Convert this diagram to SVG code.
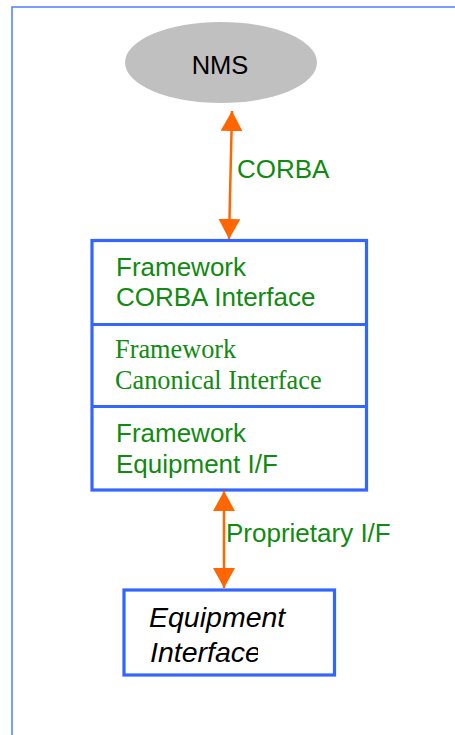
<svg xmlns="http://www.w3.org/2000/svg" width="455" height="735" viewBox="0 0 455 735">
<style>
.frame{fill:none;stroke:#4d7cff;stroke-width:1.5}
.box{fill:#fff;stroke:#3366ff;stroke-width:3.2}
.sans{font-family:"Liberation Sans",Arial,sans-serif}
.serif{font-family:"Liberation Serif","Times New Roman",serif}
.green{fill:#118a11}
.conn{stroke:#ff6600;stroke-width:2.5;fill:none}
.eq{font-size:28.5px;font-style:italic;fill:#000}
</style>
<defs>
<marker id="ah" viewBox="0 0 20 22" refX="20" refY="11" markerWidth="20" markerHeight="22" markerUnits="userSpaceOnUse" orient="auto-start-reverse">
<path d="M0,0 L20,11 L0,22 Z" fill="#ff6600"/>
</marker>
<clipPath id="eqclip"><rect x="124" y="635" width="134" height="40"/></clipPath>
</defs>
<rect class="frame" x="12" y="7" width="460" height="740"/>
<g id="nms">
<ellipse cx="221" cy="62.5" rx="96" ry="40.5" fill="#c0c0c0"/>
<text class="sans" x="220" y="74" font-size="25.5" text-anchor="middle" fill="#000">NMS</text>
</g>
<g id="framework">
<rect class="box" x="92" y="240.5" width="274.5" height="249.5"/>
<line class="box" x1="92" y1="324.5" x2="366.5" y2="324.5"/>
<line class="box" x1="92" y1="406.5" x2="366.5" y2="406.5"/>
<text class="sans green" font-size="26"><tspan x="116" y="276">Framework</tspan><tspan x="116" y="305.5">CORBA Interface</tspan></text>
<text class="serif green" font-size="26.3"><tspan x="115" y="358">Framework</tspan><tspan x="115" y="388.5">Canonical Interface</tspan></text>
<text class="sans green" font-size="26"><tspan x="116" y="442">Framework</tspan><tspan x="116" y="473">Equipment I/F</tspan></text>
</g>
<g id="equipment">
<rect class="box" x="124" y="590" width="210.5" height="85"/>
<text class="sans eq" x="149" y="627">Equipment</text>
<text class="sans eq" x="150" y="662" clip-path="url(#eqclip)">Interface</text>
</g>
<g id="connectors">
<line class="conn" x1="232" y1="111" x2="229" y2="239" marker-start="url(#ah)" marker-end="url(#ah)"/>
<line class="conn" x1="224" y1="491" x2="224" y2="588" marker-start="url(#ah)" marker-end="url(#ah)"/>
<text class="sans green" x="237" y="178" font-size="26">CORBA</text>
<text class="sans green" x="226" y="542" font-size="26">Proprietary I/F</text>
</g>
</svg>
